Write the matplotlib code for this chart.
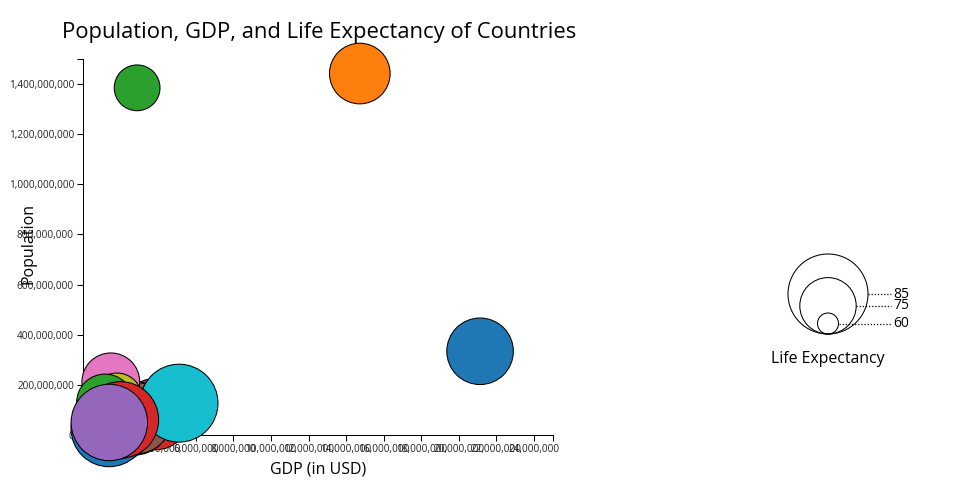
import matplotlib
matplotlib.use("Agg")
import matplotlib.pyplot as plt
from matplotlib.patches import Circle
from matplotlib.ticker import FuncFormatter, MultipleLocator

plt.rcParams['font.family'] = ['Open Sans', 'DejaVu Sans']

# data (gdp in the chart's units, population in people)
countries = ["United States", "China", "India", "Germany", "France", "United Kingdom",
             "Brazil", "Canada", "Russia", "Japan", "Australia", "South Korea",
             "Mexico", "Italy", "Spain"]
gdp = [21130000, 14730000, 2880000, 3850000, 2720000, 2830000,
       1480000, 1740000, 1800000, 5110000, 1390000, 1640000,
       1170000, 1990000, 1400000]
population = [334000000, 1442000000, 1385000000, 83200000, 67000000, 67000000,
              212000000, 37700000, 146000000, 127000000, 25500000, 51700000,
              130000000, 60400000, 50000000]
life_expectancy = [79.3, 76.8, 70.5, 81.3, 82.4, 81.3,
                   75.6, 82.3, 72.6, 84.1, 83.4, 83.0,
                   75.1, 83.5, 83.5]
legend_values = [85, 75, 60]

palette = ["#1f77b4", "#ff7f0e", "#2ca02c", "#d62728", "#9467bd",
           "#8c564b", "#e377c2", "#7f7f7f", "#bcbd22", "#17becf"]


def radius_px(le):
    # linear size scale
    return 40 + (le - 85) * 1.18


DPI = 100
fig = plt.figure(figsize=(9.6, 5.0), dpi=DPI)
ax = fig.add_axes([83 / 960, 65 / 500, 469.8 / 960, 376 / 500])

sizes = [(2 * radius_px(le) * 72 / DPI) ** 2 for le in life_expectancy]
colors = [palette[i % len(palette)] for i in range(len(countries))]
ax.scatter(gdp, population, s=sizes, c=colors, edgecolors="black",
           linewidths=0.75, zorder=3, clip_on=False)

ax.set_xlim(0, 25000000)
ax.set_ylim(0, 1500000000)
ax.xaxis.set_major_locator(MultipleLocator(2000000))
ax.yaxis.set_major_locator(MultipleLocator(200000000))
ax.set_xticks([25000000], minor=True)
ax.set_yticks([1500000000], minor=True)
fmt = FuncFormatter(lambda v, _: f"{v:,.0f}")
ax.xaxis.set_major_formatter(fmt)
ax.yaxis.set_major_formatter(fmt)
ax.tick_params(which="both", length=4.3, width=0.75, color="black",
               labelsize=7.2, labelcolor="#222222", pad=2.2)
for side in ["top", "right"]:
    ax.spines[side].set_visible(False)
for side in ["left", "bottom"]:
    ax.spines[side].set_linewidth(0.75)

fig.text(62 / 960, 1 - 38 / 500, "Population, GDP, and Life Expectancy of Countries",
         fontsize=15.8, ha="left", va="baseline")
fig.text(318 / 960, 1 - 469 / 500, "GDP (in USD)", fontsize=11.5,
         ha="center", va="center")
fig.text(28 / 960, 1 - 243 / 500, "Population", fontsize=11.5,
         ha="center", va="center", rotation=90)

# size legend in pixel coordinates
lax = fig.add_axes([0, 0, 1, 1], zorder=5)
lax.set_xlim(0, 960)
lax.set_ylim(500, 0)
lax.axis("off")
cx, base = 828, 334
for v in legend_values:
    r = radius_px(v)
    lax.add_patch(Circle((cx, base - r), r, fill=False, edgecolor="black", lw=0.75))
    lax.plot([cx + r, 891], [base - r, base - r], color="black", lw=0.9,
             linestyle=(0, (1, 1.5)))
    lax.text(893, base - r, str(v), fontsize=10, ha="left", va="center")
lax.text(cx, 359, "Life Expectancy", fontsize=11.4, ha="center", va="center")

fig.savefig("out.png", dpi=DPI)
